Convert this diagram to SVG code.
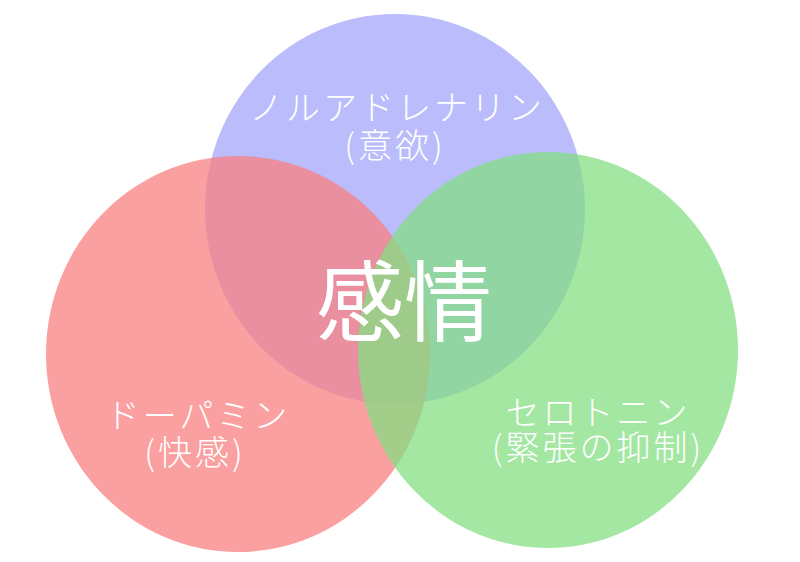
<svg xmlns="http://www.w3.org/2000/svg" width="800" height="562" viewBox="0 0 800 562">
<style>
.lbl{font-family:"Noto Sans CJK JP","Noto Sans",sans-serif;fill:#ffffff;text-anchor:middle;font-size:34px;font-weight:300;letter-spacing:3px;}
.big{font-family:"Noto Sans CJK JP","Noto Sans",sans-serif;fill:#ffffff;text-anchor:middle;font-size:88px;font-weight:400;}
</style>
<rect width="800" height="562" fill="#ffffff"/>
<g id="noradrenaline">
<ellipse cx="395" cy="209" rx="190" ry="195" fill="#babcfb"/>
</g>
<g id="dopamine">
<ellipse cx="238" cy="354" rx="192" ry="198" fill="#fa8080" fill-opacity="0.75"/>
</g>
<g id="serotonin">
<ellipse cx="548" cy="350" rx="190" ry="198" fill="#83de83" fill-opacity="0.74"/>
</g>
<g id="labels">
<text class="lbl" x="397" y="120">ノルアドレナリン</text>
<text class="lbl" x="395" y="158">(意欲)</text>
<text class="lbl" x="198" y="428">ドーパミン</text>
<text class="lbl" x="195" y="465">(快感)</text>
<text class="lbl" x="598" y="425">セロトニン</text>
<text class="lbl" x="598" y="460">(緊張の抑制)</text>
<text class="big" x="404" y="334">感情</text>
</g>
</svg>
